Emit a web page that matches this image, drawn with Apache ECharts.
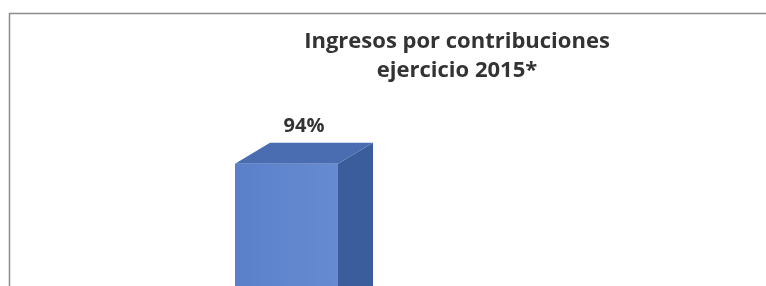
<!DOCTYPE html>
<html>
<head>
<meta charset="utf-8">
<script src="https://cdn.jsdelivr.net/npm/echarts@6/dist/echarts.min.js"></script>
<style>
  html, body { margin: 0; padding: 0; background: #fff; }
  #chart { width: 766px; height: 286px; }
</style>
</head>
<body>
<div id="chart"></div>
<script>
// datos del gráfico
const categorias = ['Contribuciones'];
const porcentajes = [94];
const titulo = ['Ingresos por contribuciones', 'ejercicio 2015*'];

const myChart = echarts.init(document.getElementById('chart'));

// caja 3D: frente, lado y tapa
const FRENTE = 103, PROF_X = 35, PROF_Y = 21;

const renderBox = (params, api) => {
  const cima = api.coord([api.value(0), api.value(1)]);
  const base = api.coord([api.value(0), 0]);
  const x0 = cima[0] - (FRENTE + PROF_X) / 2;
  const x1 = x0 + FRENTE;
  const y0 = cima[1];
  const y1 = base[1];
  return {
    type: 'group',
    children: [
      {
        type: 'polygon',
        shape: { points: [[x1, y0], [x1 + PROF_X, y0 - PROF_Y], [x1 + PROF_X, y1], [x1, y1]] },
        style: { fill: '#3c5d9c' }
      },
      {
        type: 'polygon',
        shape: { points: [[x0, y0], [x0 + PROF_X, y0 - PROF_Y], [x1 + PROF_X, y0 - PROF_Y], [x1, y0]] },
        style: { fill: '#4a6db2' }
      },
      {
        type: 'rect',
        shape: { x: x0, y: y0, width: FRENTE, height: y1 - y0 },
        style: {
          fill: new echarts.graphic.LinearGradient(0, 0, 1, 0, [
            { offset: 0, color: '#5a80ca' },
            { offset: 1, color: '#668bd2' }
          ])
        }
      },
      {
        type: 'text',
        style: {
          text: api.value(1) + '%',
          x: (x0 + x1 + PROF_X) / 2,
          y: y0 - PROF_Y - 17,
          textAlign: 'center',
          textVerticalAlign: 'middle',
          font: 'bold 20px "Open Sans", sans-serif',
          fill: '#333'
        }
      }
    ]
  };
};

const option = {
  animation: false,
  backgroundColor: '#fff',
  graphic: [
    {
      type: 'rect',
      shape: { x: 9.5, y: 13.5, width: 800, height: 320 },
      style: { fill: 'none', stroke: '#8c8c8c', lineWidth: 1.5 },
      z: 10
    },
    {
      type: 'text',
      style: {
        text: titulo.join('\n'),
        x: 457,
        y: 27,
        textAlign: 'center',
        font: 'bold 22px "Open Sans", sans-serif',
        lineHeight: 29,
        fill: '#333'
      }
    }
  ],
  grid: { left: 204, width: 200, top: 156, bottom: -60 },
  xAxis: { type: 'category', data: categorias, show: false },
  yAxis: { type: 'value', min: 0, max: 100, show: false },
  series: [
    {
      type: 'custom',
      renderItem: renderBox,
      data: porcentajes.map((v, i) => [i, v]),
      clip: false
    }
  ]
};

myChart.setOption(option);
</script>
</body>
</html>
